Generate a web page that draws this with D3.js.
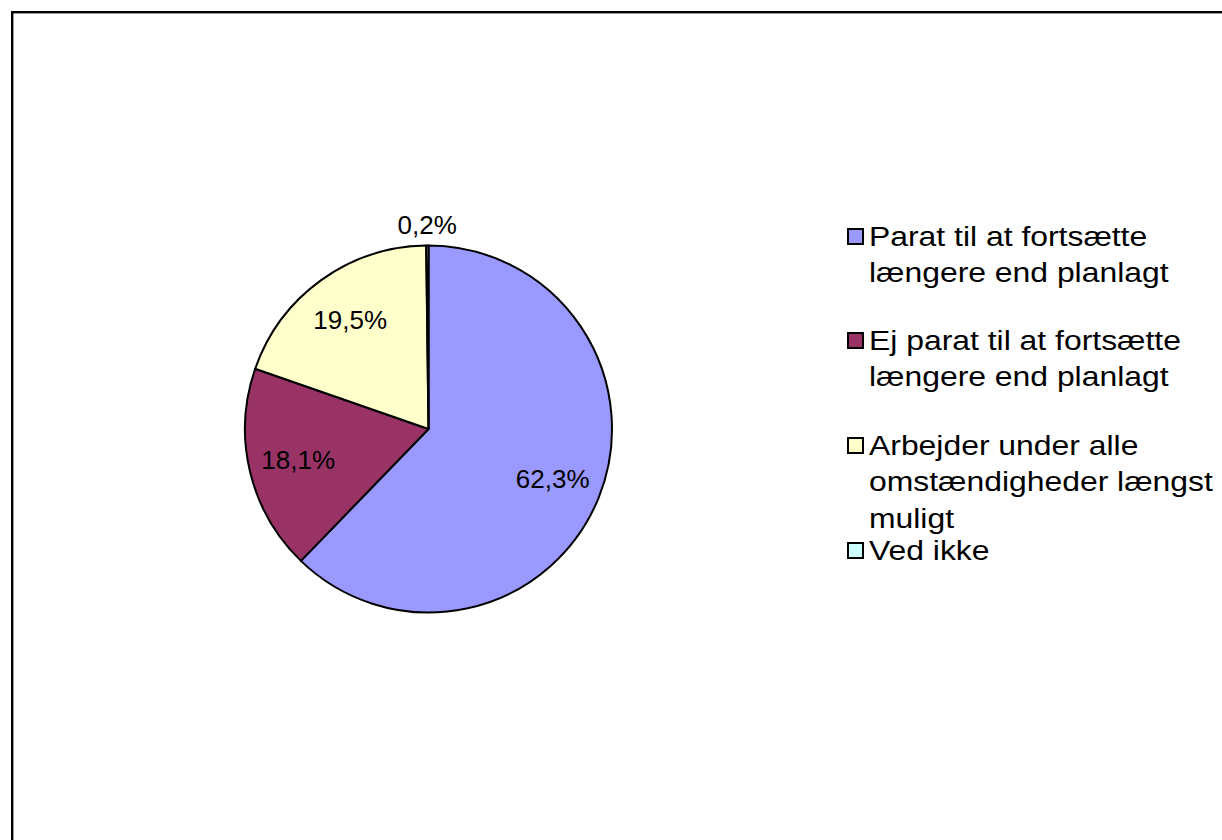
<!DOCTYPE html>
<html>
<head>
<meta charset="utf-8">
<script src="https://cdn.jsdelivr.net/npm/d3@7/dist/d3.min.js"></script>
<style>
  html, body { margin: 0; padding: 0; background: #fff; }
  svg { display: block; }
  text { font-family: "Liberation Sans", Arial, sans-serif; fill: #000; }
</style>
</head>
<body>
<svg id="chart" width="1222" height="840"></svg>
<script>
// ---- data ----
const categories = [
  "Parat til at fortsætte længere end planlagt",
  "Ej parat til at fortsætte længere end planlagt",
  "Arbejder under alle omstændigheder længst muligt",
  "Ved ikke"
];
const values = [62.3, 18.1, 19.5, 0.2];
const valueLabels = ["62,3%", "18,1%", "19,5%", "0,2%"];
const legendLines = [
  ["Parat til at fortsætte", "længere end planlagt"],
  ["Ej parat til at fortsætte", "længere end planlagt"],
  ["Arbejder under alle", "omstændigheder længst", "muligt"],
  ["Ved ikke"]
];
const colors = ["#9999FF", "#993366", "#FFFFCC", "#CCFFFF"];

// ---- layout ----
const W = 1222, H = 840;
const svg = d3.select("#chart");

svg.append("rect")
  .attr("x", 12.2).attr("y", 12.2)
  .attr("width", W + 50).attr("height", H + 50)
  .attr("fill", "#fff").attr("stroke", "#000").attr("stroke-width", 2.4);

const cx = 428.5, cy = 429, r = 183.5;

const pie = d3.pie().sort(null).value(d => d)
  .startAngle(0).endAngle(2 * Math.PI);
const arcs = pie(values);

const arc = d3.arc().innerRadius(0).outerRadius(r);
const labelArcIn = d3.arc().innerRadius(r * 0.73).outerRadius(r * 0.73);
const labelArcOut = d3.arc().innerRadius(r * 1.11).outerRadius(r * 1.11);

const color = d3.scaleOrdinal().domain(categories).range(colors);

const g = svg.append("g").attr("transform", `translate(${cx},${cy})`);

g.selectAll("path.slice")
  .data(arcs)
  .join("path")
  .attr("class", "slice")
  .attr("d", arc)
  .attr("fill", (d, i) => color(categories[i]))
  .attr("stroke", "#000")
  .attr("stroke-width", 2)
  .attr("stroke-linejoin", "round");

g.selectAll("text.lbl")
  .data(arcs)
  .join("text")
  .attr("class", "lbl")
  .attr("transform", (d, i) => {
    const c = (d.endAngle - d.startAngle) < 0.1 ? labelArcOut.centroid(d) : labelArcIn.centroid(d);
    return `translate(${c[0]},${c[1]})`;
  })
  .attr("text-anchor", "middle")
  .attr("dy", "0.35em")
  .attr("font-size", "26px")
  .text((d, i) => valueLabels[i]);

// ---- legend ----
const legendX = 848, textX = 869;
const itemBaselines = [246, 350, 455, 560];
const lineH = 36.5;
const leg = svg.append("g");

legendLines.forEach((lines, i) => {
  leg.append("rect")
    .attr("x", legendX).attr("y", itemBaselines[i] - 17)
    .attr("width", 15).attr("height", 15)
    .attr("fill", color(categories[i]))
    .attr("stroke", "#000").attr("stroke-width", 2);
  const t = leg.append("g")
    .attr("transform", `translate(${textX},0) scale(1.16,1)`);
  lines.forEach((ln, j) => {
    t.append("text")
      .attr("x", 0)
      .attr("y", itemBaselines[i] + j * lineH)
      .attr("font-size", "27.5px")
      .text(ln);
  });
});
</script>
</body>
</html>
